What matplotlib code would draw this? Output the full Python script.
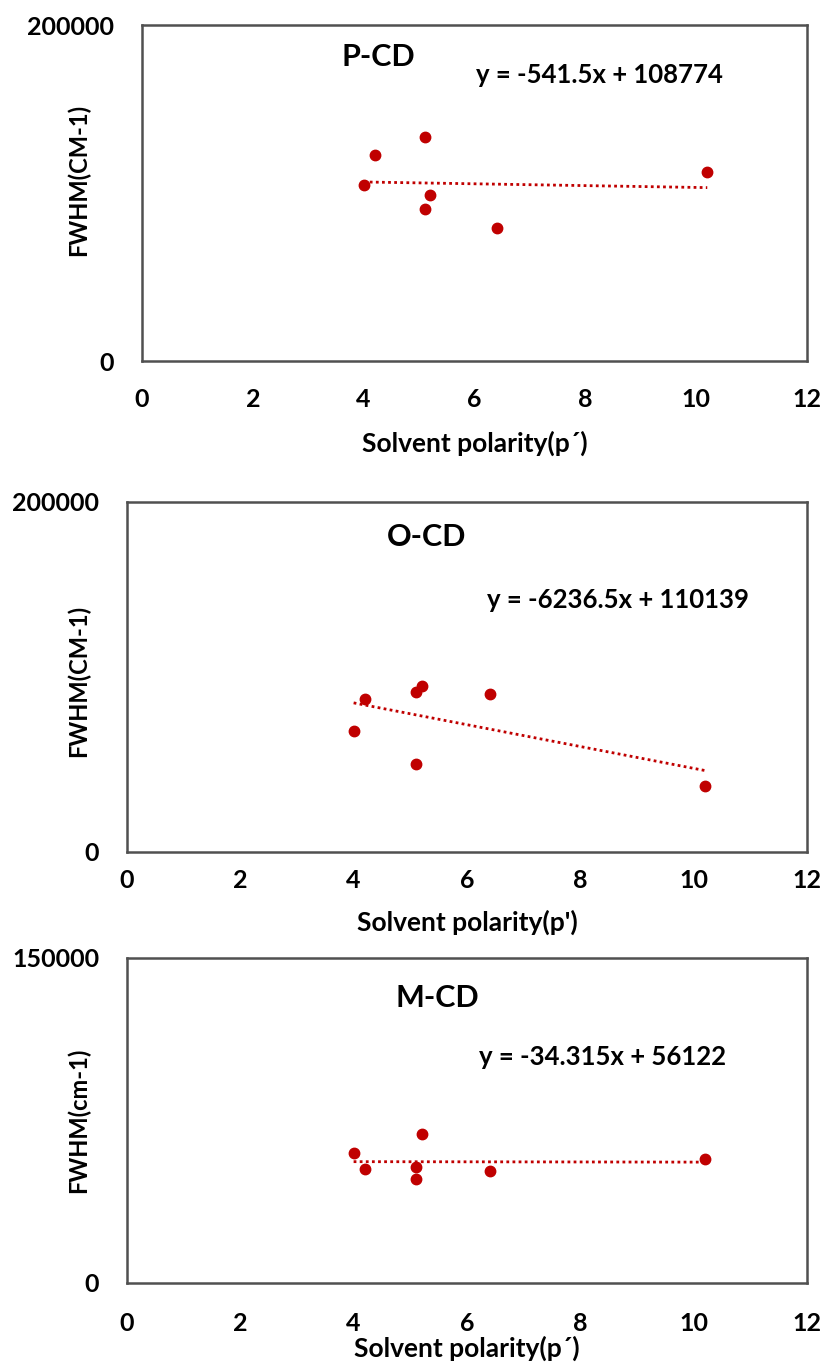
import matplotlib
matplotlib.use("Agg")
import numpy as np
import matplotlib.pyplot as plt

plt.rcParams["font.family"] = ["Lato", "DejaVu Sans"]
plt.rcParams["font.weight"] = "bold"

# 溶剂极性 (x)
polarity = [4.0, 4.2, 5.1, 5.1, 5.2, 6.4, 10.2]

# FWHM 数据
fwhm_p = [104800, 122600, 133300, 90500, 98800, 79200, 112500]
fwhm_o = [69100, 87400, 91400, 50300, 94900, 90300, 37700]
fwhm_m = [60000, 52600, 53500, 48000, 68800, 51700, 57200]

# 趋势线系数
slopes = [-541.5, -6236.5, -34.315]
intercepts = [108774, 110139, 56122]

names = ["P-CD", "O-CD", "M-CD"]
equations = ["y = -541.5x + 108774", "y = -6236.5x + 110139", "y = -34.315x + 56122"]
ylabels = ["FWHM(CM-1)", "FWHM(CM-1)", "FWHM(cm-1)"]
xlabels = ["Solvent polarity(p\u00b4)", "Solvent polarity(p')", "Solvent polarity(p\u00b4)"]
ymax = [200000, 200000, 150000]
xticks = [0, 2, 4, 6, 8, 10, 12]

# 版面参数
rects = [[0.1721, 0.7353, 0.8061, 0.2463],
         [0.1539, 0.3754, 0.8242, 0.2566],
         [0.1539, 0.0594, 0.8242, 0.2383]]
title_pos = [(0.356, 0.905), (0.44, 0.90), (0.456, 0.877)]
eq_pos = [(0.502, 0.851), (0.529, 0.72), (0.518, 0.695)]
ylab_pos = [(-0.078, 0.54), (-0.054, 0.49), (-0.054, 0.5)]
xlab_pos = [-0.208, -0.166, -0.163]
xpad = [19.5, 12, 21]

fig = plt.figure(figsize=(8.25, 13.64), dpi=100)
series = [fwhm_p, fwhm_o, fwhm_m]
red = "#C00000"

for i in range(3):
    ax = fig.add_axes(rects[i])
    ax.plot(polarity, series[i], "o", color=red, markersize=7.5, zorder=3)
    xl = np.array([min(polarity), max(polarity)])
    ax.plot(xl, slopes[i] * xl + intercepts[i], linestyle=(0, (1, 1.2)), color=red, lw=2.0, zorder=2)
    ax.set_xlim(0, 12)
    ax.set_ylim(0, ymax[i])
    ax.set_xticks(xticks)
    ax.set_yticks([0, ymax[i]])
    ax.tick_params(axis="x", length=0, pad=xpad[i], labelsize=18)
    ax.tick_params(axis="y", length=0, pad=20, labelsize=18)
    for lab in ax.get_xticklabels() + ax.get_yticklabels():
        lab.set_fontweight("bold")
    for sp in ax.spines.values():
        sp.set_color("#505050")
        sp.set_linewidth(1.8)
    ax.set_ylabel(ylabels[i], fontsize=17, fontweight="bold")
    ax.yaxis.set_label_coords(*ylab_pos[i])
    ax.set_xlabel(xlabels[i], fontsize=19, fontweight="bold")
    ax.xaxis.set_label_coords(0.5, xlab_pos[i])
    ax.text(title_pos[i][0], title_pos[i][1], names[i], transform=ax.transAxes,
            ha="center", va="center", fontsize=22, fontweight="bold")
    ax.text(eq_pos[i][0], eq_pos[i][1], equations[i], transform=ax.transAxes,
            ha="left", va="center", fontsize=18.5, fontweight="bold")

fig.savefig("out.png", dpi=100)
plt.close("all")
